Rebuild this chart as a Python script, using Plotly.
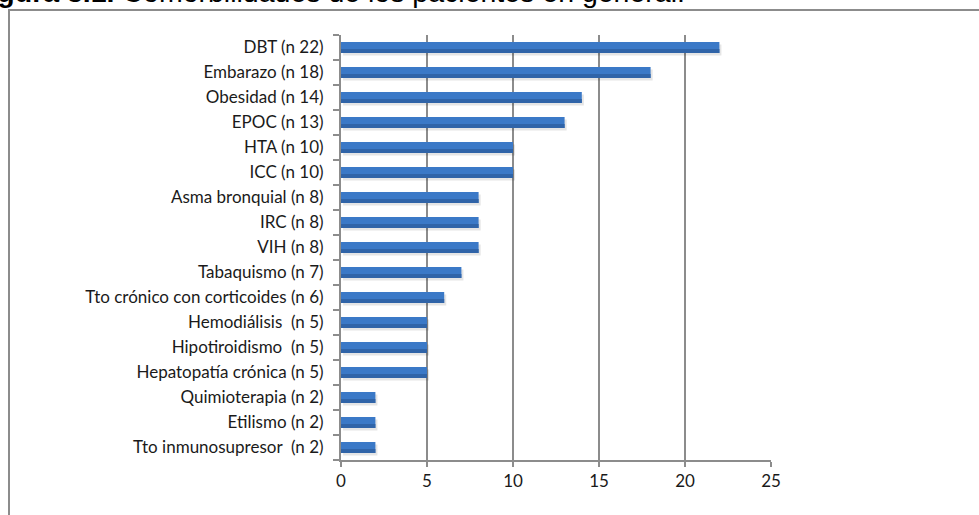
import plotly.graph_objects as go

# Comorbidities, listed bottom to top as drawn on the category axis
categories = [
    "Tto inmunosupresor  (n 2)",
    "Etilismo (n 2)",
    "Quimioterapia (n 2)",
    "Hepatopatía crónica (n 5)",
    "Hipotiroidismo  (n 5)",
    "Hemodiálisis  (n 5)",
    "Tto crónico con corticoides (n 6)",
    "Tabaquismo (n 7)",
    "VIH (n 8)",
    "IRC (n 8)",
    "Asma bronquial (n 8)",
    "ICC (n 10)",
    "HTA (n 10)",
    "EPOC (n 13)",
    "Obesidad (n 14)",
    "Embarazo (n 18)",
    "DBT (n 22)",
]
values = [2, 2, 2, 5, 5, 5, 6, 7, 8, 8, 8, 10, 10, 13, 14, 18, 22]
x_ticks = [0, 5, 10, 15, 20, 25]

W, H = 979, 515
ML, MR, MT, MB = 341, 208, 35, 55
PW, PH = W - ML - MR, H - MT - MB

def px_to_paper_x(px):
    return (px - ML) / PW

def px_to_paper_y(py):
    return (H - MB - py) / PH

fig = go.Figure()

# soft drop shadow under each bar
fig.add_trace(go.Bar(
    y=categories, x=values, base=0.12, orientation="h",
    width=0.44, offset=-0.32,
    marker=dict(color="rgba(0,0,0,0.10)", line=dict(width=0)),
    hoverinfo="skip", showlegend=False,
))
# main bar body
fig.add_trace(go.Bar(
    y=categories, x=values, orientation="h",
    width=0.44, offset=-0.22,
    marker=dict(color="#3b79c7", line=dict(width=0)),
    hoverinfo="skip", showlegend=False,
))
# darker lower band for the shaded look
fig.add_trace(go.Bar(
    y=categories, x=values, orientation="h",
    width=0.16, offset=-0.22,
    marker=dict(color="#3064a8", line=dict(width=0)),
    hoverinfo="skip", showlegend=False,
))

fig.update_layout(
    width=W, height=H,
    margin=dict(l=ML, r=MR, t=MT, b=MB, pad=0),
    paper_bgcolor="white", plot_bgcolor="white",
    barmode="overlay",
    font=dict(family="Lato, sans-serif", size=17, color="#1a1a1a"),
    xaxis=dict(
        range=[0, 25], tickvals=x_ticks, ticktext=[str(v) for v in x_ticks],
        showgrid=True, gridcolor="#8c8c8c", gridwidth=1.5,
        showline=True, linecolor="#8c8c8c", linewidth=2,
        ticks="outside", ticklen=5, tickcolor="#8c8c8c", tickwidth=2,
        zeroline=False, fixedrange=True,
    ),
    yaxis=dict(
        type="category", categoryorder="array", categoryarray=categories,
        range=[-0.5, len(categories) - 0.5],
        showgrid=False, showline=True, linecolor="#8c8c8c", linewidth=2,
        ticks="outside", ticklen=6, tickcolor="#8c8c8c", tickwidth=2,
        tickson="boundaries", ticklabelstandoff=12,
        zeroline=False, fixedrange=True,
    ),
    showlegend=False,
)

# outer chart frame (left and top edges visible)
fig.add_shape(
    type="rect", xref="paper", yref="paper",
    x0=px_to_paper_x(9), x1=px_to_paper_x(1000),
    y0=px_to_paper_y(540), y1=px_to_paper_y(10),
    line=dict(color="#8c8c8c", width=2), fillcolor="rgba(0,0,0,0)",
    layer="below",
)

# figure caption above the frame
fig.add_annotation(
    xref="paper", yref="paper",
    x=px_to_paper_x(-30), y=px_to_paper_y(10),
    xanchor="left", yanchor="bottom",
    text="<b>Figura 3.1.</b> Comorbilidades de los pacientes en general.",
    showarrow=False,
    font=dict(family="Liberation Sans, Arial, sans-serif", size=28.5, color="black"),
)

fig.write_html("out.html")
